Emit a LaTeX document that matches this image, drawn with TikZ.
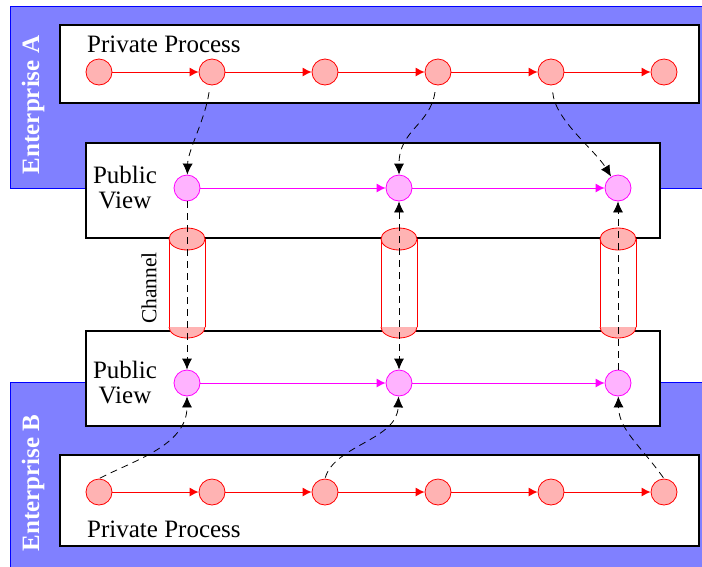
\documentclass[tikz,border=0pt]{standalone}
\usepackage{fontspec}
\setmainfont{Liberation Serif}
\usetikzlibrary{arrows.meta, positioning}
\definecolor{pubmag}{RGB}{255,0,255}
\definecolor{pubfill}{RGB}{255,179,255}
\definecolor{privred}{RGB}{255,0,0}
\definecolor{privfill}{RGB}{255,179,179}
\definecolor{entfill}{RGB}{128,128,255}
\definecolor{entline}{RGB}{0,0,255}
\tikzset{
  enterprise/.style = {draw=entline, fill=entfill, line width=1pt},
  procbox/.style    = {draw=black, fill=white, line width=1.2pt},
  privstate/.style  = {circle, draw=privred, fill=privfill, minimum size=26pt,
                       inner sep=0pt, line width=0.8pt},
  pubstate/.style   = {circle, draw=pubmag, fill=pubfill, minimum size=26pt,
                       inner sep=0pt, line width=0.8pt},
  privflow/.style   = {-{Latex[length=9pt,width=9pt]}, privred, line width=1pt},
  pubflow/.style    = {-{Latex[length=9pt,width=9pt]}, pubmag, line width=1pt},
  msg/.style        = {-{Latex[length=11pt,width=10pt]}, black, line width=0.8pt,
                       dash pattern=on 7pt off 5pt},
  boxlabel/.style   = {font=\fontsize{25}{25}\selectfont, align=center,
                       inner sep=0pt},
  entlabel/.style   = {font=\fontsize{25}{25}\selectfont\bfseries, text=white,
                       rotate=90, inner sep=0pt},
  channel/.style    = {draw=privred, line width=0.8pt},
}

\begin{document}
\begin{tikzpicture}[x=1pt, y=-1pt, node distance=86.2pt]
    \useasboundingbox (0,0) rectangle (702,566);

    % enterprises
    \draw[enterprise] (10,6) rectangle (708,188);
    \draw[enterprise] (10,382) rectangle (708,572);
    \node[entlabel] (entA) at (33,105) {Enterprise A};
    \node[entlabel] (entB) at (33,483) {Enterprise B};

    % process boxes
    \draw[procbox] (60,25) rectangle (699,103);
    \draw[procbox] (86,143) rectangle (660,238);
    \draw[procbox] (86,331) rectangle (660,426);
    \draw[procbox] (60,455) rectangle (699,546);

    \node[boxlabel, anchor=base west] (privA) at (87,52) {Private Process};
    \node[boxlabel, anchor=base west] (privB) at (87,537) {Private Process};
    \node[boxlabel] (pubA) at (125,188) {Public\\View};
    \node[boxlabel] (pubB) at (125,383) {Public\\View};

    % channels
    \foreach \cx in {187,399,618} {
      \fill[white] (\cx-18,239) rectangle (\cx+18,327);
      \fill[privfill] (\cx-18,327) arc[start angle=180, end angle=0,
                                       x radius=18, y radius=11] -- cycle;
      \draw[channel] (\cx-18,327) arc[start angle=180, end angle=0,
                                      x radius=18, y radius=11];
      \draw[channel] (\cx-18,239) -- (\cx-18,327) (\cx+18,239) -- (\cx+18,327);
      \filldraw[channel, fill=privfill] (\cx,239) ellipse[x radius=18, y radius=11];
    }
    \node[font=\fontsize{21.5}{21.5}\selectfont, rotate=90, inner sep=0pt]
      (chan) at (149,288) {Channel};

    % private process A
    \node[privstate] (a1) at (99,72) {};
    \node[privstate, right=of a1] (a2) {};
    \node[privstate, right=of a2] (a3) {};
    \node[privstate, right=of a3] (a4) {};
    \node[privstate, right=of a4] (a5) {};
    \node[privstate, right=of a5] (a6) {};

    % private process B
    \node[privstate] (b1) at (99,492) {};
    \node[privstate, right=of b1] (b2) {};
    \node[privstate, right=of b2] (b3) {};
    \node[privstate, right=of b3] (b4) {};
    \node[privstate, right=of b4] (b5) {};
    \node[privstate, right=of b5] (b6) {};

    % public views
    \node[pubstate] (pa1) at (187,188) {};
    \node[pubstate] (pa2) at (399,188) {};
    \node[pubstate] (pa3) at (618,188) {};
    \node[pubstate] (pb1) at (187,383) {};
    \node[pubstate] (pb2) at (399,383) {};
    \node[pubstate] (pb3) at (618,383) {};

    \draw[privflow] (a1) -- (a2);
    \draw[privflow] (a2) -- (a3);
    \draw[privflow] (a3) -- (a4);
    \draw[privflow] (a4) -- (a5);
    \draw[privflow] (a5) -- (a6);
    \draw[privflow] (b1) -- (b2);
    \draw[privflow] (b2) -- (b3);
    \draw[privflow] (b3) -- (b4);
    \draw[privflow] (b4) -- (b5);
    \draw[privflow] (b5) -- (b6);

    \draw[pubflow] (pa1) -- (pa2);
    \draw[pubflow] (pa2) -- (pa3);
    \draw[pubflow] (pb1) -- (pb2);
    \draw[pubflow] (pb2) -- (pb3);

    % messages
    \draw[msg, shorten <=7pt] (a2) .. controls (205,120) and (188,150) .. (pa1);
    \draw[msg, shorten <=7pt] (a4) .. controls (430,125) and (399,130) .. (pa2);
    \draw[msg, shorten <=7pt] (a5) .. controls (555,120) and (595,150) .. (pa3);
    \draw[msg] (pa1) -- (pb1);
    \draw[msg, {Latex[length=11pt,width=10pt]}-{Latex[length=11pt,width=10pt]}]
      (pa2) -- (pb2);
    \draw[msg] (pb3) -- (pa3);
    \draw[msg, shorten <=1pt] (b1.north) .. controls (135,460) and (187,445) .. (pb1);
    \draw[msg, shorten <=1pt] (b3.north) .. controls (335,445) and (397,440) .. (pb2);
    \draw[msg, shorten <=1pt] (b6.north) .. controls (640,445) and (619,430) .. (pb3);

  \end{tikzpicture}
\end{document}
